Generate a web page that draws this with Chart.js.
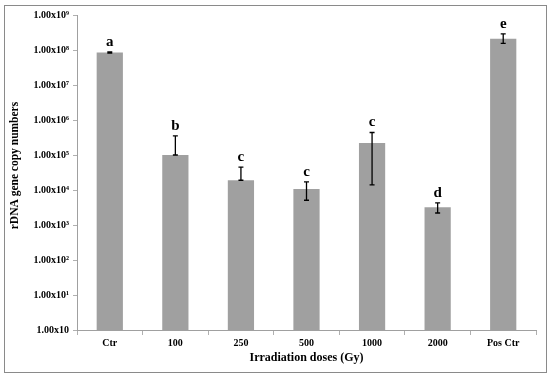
<!DOCTYPE html>
<html>
<head>
<meta charset="utf-8">
<script src="https://cdn.jsdelivr.net/npm/chart.js@4/dist/chart.umd.min.js"></script>
<style>
  html, body { margin: 0; padding: 0; background: #fff; }
  #wrap { position: relative; width: 550px; height: 377px; }
  #frame { position: absolute; left: 4px; top: 5px; width: 541px; height: 366px; border: 1px solid #8a8a8a; }
</style>
</head>
<body>
<div id="wrap">
  <div id="frame"></div>
  <canvas id="rdnaChart" width="550" height="377"></canvas>
</div>
<script>
  var categories = ["Ctr", "100", "250", "500", "1000", "2000", "Pos Ctr"];
  var copyNumbers = [8.5e7, 1.0e5, 1.9e4, 1.07e4, 2.2e5, 3.2e3, 2.1e8];
  var errLow = [8.2e7, 1.0e5, 1.9e4, 5.1e3, 1.4e4, 2.2e3, 1.55e8];
  var errHigh = [8.8e7, 3.5e5, 4.5e4, 1.7e4, 4.4e5, 4.3e3, 2.9e8];
  var groupLetters = ["a", "b", "c", "c", "c", "d", "e"];
  var yTicks = [1, 1e1, 1e2, 1e3, 1e4, 1e5, 1e6, 1e7, 1e8, 1e9];
  var supers = ["\u2070", "\u00b9", "\u00b2", "\u00b3", "\u2074", "\u2075", "\u2076", "\u2077", "\u2078", "\u2079"];
  var yTitle = "rDNA gene copy numbers";

  var serif = "'Liberation Serif', 'Times New Roman', serif";

  var errorBarPlugin = {
    id: "errorBars",
    afterDatasetsDraw: function (chart) {
      var ctx = chart.ctx;
      var x = chart.scales.x;
      var y = chart.scales.y;
      ctx.save();
      ctx.strokeStyle = "#000";
      ctx.lineWidth = 1.3;
      ctx.fillStyle = "#000";
      ctx.font = "bold 15px " + serif;
      ctx.textAlign = "center";
      ctx.textBaseline = "alphabetic";
      for (var i = 0; i < categories.length; i++) {
        var cx = x.getPixelForValue(i);
        var yTop = y.getPixelForValue(errHigh[i]);
        var yBot = y.getPixelForValue(errLow[i]);
        ctx.beginPath();
        ctx.moveTo(cx, yTop);
        ctx.lineTo(cx, yBot);
        ctx.moveTo(cx - 2.5, yTop);
        ctx.lineTo(cx + 2.5, yTop);
        ctx.moveTo(cx - 2.5, yBot);
        ctx.lineTo(cx + 2.5, yBot);
        ctx.stroke();
        var top = Math.min(yTop, y.getPixelForValue(copyNumbers[i]));
        ctx.fillText(groupLetters[i], cx, top - 6);
      }
      // y axis title, sits a bit above the middle of the axis like the original
      ctx.font = "bold 11.5px " + serif;
      ctx.translate(15, y.getPixelForValue(5e4));
      ctx.rotate(-Math.PI / 2);
      ctx.textBaseline = "middle";
      ctx.fillText(yTitle, 0, 0);
      ctx.restore();
    }
  };

  new Chart(document.getElementById("rdnaChart"), {
    type: "bar",
    data: {
      labels: categories,
      datasets: [{
        data: copyNumbers,
        backgroundColor: "#a0a0a0",
        borderWidth: 0,
        barPercentage: 0.8,
        categoryPercentage: 0.5
      }]
    },
    options: {
      responsive: false,
      animation: false,
      layout: { padding: { left: 4, right: 14, top: 15, bottom: 12 } },
      plugins: {
        legend: { display: false },
        tooltip: { enabled: false }
      },
      scales: {
        x: {
          grid: {
            offset: true,
            drawOnChartArea: false,
            color: "#b0b0b0",
            tickLength: 5
          },
          border: { color: "#a0a0a0" },
          ticks: {
            color: "#000",
            font: { family: serif, size: 10, weight: "bold" },
            padding: 2,
            maxRotation: 0
          },
          title: {
            display: true,
            text: "Irradiation doses (Gy)",
            color: "#000",
            font: { family: serif, size: 12, weight: "bold" },
            padding: { top: 0, bottom: 0 }
          },
          afterFit: function (scale) { scale.height = 35; }
        },
        y: {
          type: "logarithmic",
          min: 1,
          max: 1e9,
          afterBuildTicks: function (scale) {
            scale.ticks = yTicks.map(function (v) { return { value: v }; });
          },
          grid: {
            drawOnChartArea: false,
            color: "#b0b0b0",
            tickLength: 4
          },
          border: { color: "#a0a0a0" },
          ticks: {
            color: "#000",
            font: { family: serif, size: 10, weight: "bold" },
            padding: 4,
            callback: function (value) {
              var p = Math.round(Math.log10(value));
              return p === 0 ? "1.00x10" : "1.00x10" + supers[p];
            }
          },
          afterFit: function (scale) { scale.width = 73; }
        }
      }
    },
    plugins: [errorBarPlugin]
  });
</script>
</body>
</html>
